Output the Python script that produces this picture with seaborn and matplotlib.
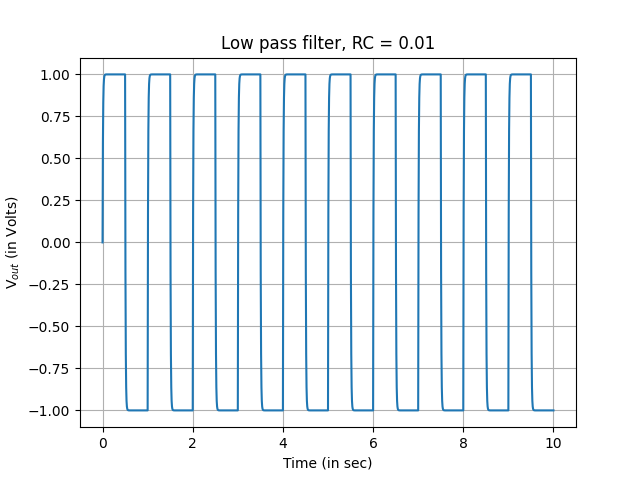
import numpy as np
import pandas as pd
import matplotlib
matplotlib.use("Agg")
import matplotlib.pyplot as plt
import seaborn as sns

# Input square wave: edge times and levels, filter constant
edge_times = [0.0, 0.5, 1.0, 1.5, 2.0, 2.5, 3.0, 3.5, 4.0, 4.5, 5.0,
              5.5, 6.0, 6.5, 7.0, 7.5, 8.0, 8.5, 9.0, 9.5, 10.0]
edge_levels = [1, -1, 1, -1, 1, -1, 1, -1, 1, -1, 1,
               -1, 1, -1, 1, -1, 1, -1, 1, -1, 1]
RC = 0.01
v0 = 0.0

# Simulate RC low-pass response of the square wave input
t = np.linspace(0, 10, 5001)
dt = t[1] - t[0]
vin = np.array(edge_levels)[np.searchsorted(edge_times, t, side="right") - 1]
vin[-1] = 1
vout = np.empty_like(t)
vout[0] = v0
for i in range(1, len(t)):
    vout[i] = vout[i-1] + (vin[i-1] - vout[i-1]) * dt / RC
df = pd.DataFrame({"t": t, "v": vout})

fig, ax = plt.subplots(figsize=(6.4, 4.8), dpi=100)
sns.lineplot(data=df, x="t", y="v", ax=ax, color="#1f77b4", linewidth=1.5)
ax.grid(True, color="#b0b0b0", linewidth=0.8)
ax.set_title("Low pass filter, RC = 0.01")
ax.set_xlabel("Time (in sec)")
ax.set_ylabel("V$_{out}$ (in Volts)")
ax.set_yticks(np.arange(-1, 1.01, 0.25))
fig.savefig("out.png")
